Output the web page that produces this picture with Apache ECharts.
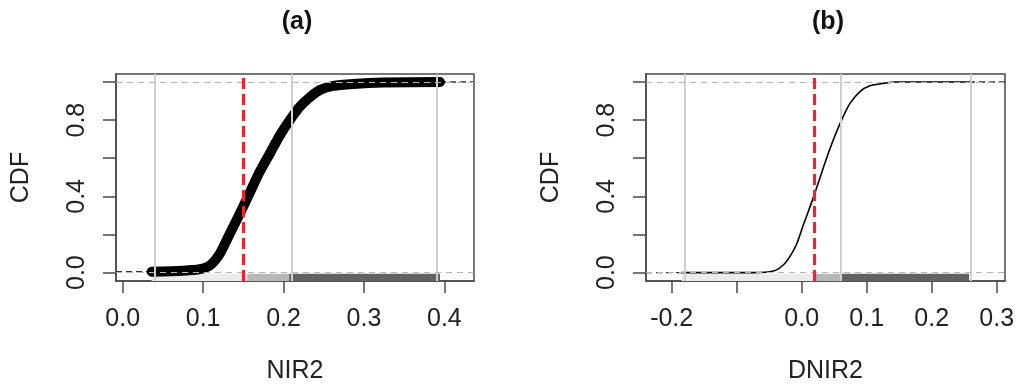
<!DOCTYPE html>
<html>
<head>
<meta charset="utf-8">
<script src="https://cdn.jsdelivr.net/npm/echarts@6/dist/echarts.min.js"></script>
<style>html,body{margin:0;padding:0;background:#fff}#c{width:1018px;height:390px}</style>
</head>
<body>
<div id="c"></div>
<script>
// ---- data ----
const panelTitles = ['(a)', '(b)'];
const xNames = ['NIR2', 'DNIR2'];
const yName = 'CDF';
const yTicks = [0, 0.2, 0.4, 0.6, 0.8, 1.0];
const yLabels = [0, 0.4, 0.8];
const nirTicks = [0, 0.1, 0.2, 0.3, 0.4];
const nirLabels = [0, 0.1, 0.2, 0.3, 0.4];
const dnirTicks = [-0.2, -0.1, 0, 0.1, 0.2, 0.3];
const dnirLabels = [-0.2, 0, 0.1, 0.2, 0.3];

// ECDF of NIR2 (panel a)
const nirX = [0.036, 0.075, 0.096, 0.1085, 0.1209, 0.1333, 0.1457, 0.1581, 0.1705, 0.183, 0.1954, 0.2078, 0.2202, 0.2327, 0.2451, 0.2617, 0.2866, 0.3237, 0.3945];
const nirY = [0.005, 0.010, 0.018, 0.038, 0.10, 0.205, 0.31, 0.42, 0.53, 0.625, 0.72, 0.80, 0.87, 0.92, 0.958, 0.98, 0.99, 0.997, 1.0];
// ECDF of DNIR2 (panel b)
const dnirX = [-0.1846, -0.0745, -0.0437, -0.0283, -0.018, -0.0077, 0.0025, 0.0128, 0.019, 0.023, 0.0333, 0.0435, 0.0538, 0.064, 0.0743, 0.0897, 0.105, 0.1255, 0.146, 0.2575];
const dnirY = [0.0, 0.0, 0.008, 0.04, 0.085, 0.15, 0.25, 0.345, 0.405, 0.445, 0.55, 0.65, 0.74, 0.82, 0.888, 0.95, 0.98, 0.993, 1.0, 1.0];

// reference lines (min, upper cut, max) and threshold (red)
const nirRef = [0.036, 0.207, 0.3945];
const nirThreshold = 0.155;
const dnirRef = [-0.1846, 0.0605, 0.2575];
const dnirThreshold = 0.019;

// axis limits (R style 4% padding)
const nirLim = [-0.0083, 0.4368];
const dnirLim = [-0.2395, 0.3128];
const yLim = [-0.044, 1.042];
const barBand = [-0.044, -0.006];

// ---- chart ----
const FONT = 'Liberation Sans, Arial, Helvetica, sans-serif';
const AX = '#4a4a4a';
const grids = [
  {left: 116, top: 74, width: 358, height: 207},
  {left: 646, top: 74, width: 359, height: 207}
];

function xAxisFor(i, lim, ticks, labels) {
  return {
    type: 'value', gridIndex: i, min: lim[0], max: lim[1],
    name: xNames[i], nameLocation: 'middle', nameGap: 78,
    nameTextStyle: {fontFamily: FONT, fontSize: 25, color: '#222'},
    axisLine: {show: true, onZero: false, lineStyle: {color: AX, width: 1.5}},
    axisTick: {show: true, length: 12, inside: false, customValues: ticks, lineStyle: {color: AX, width: 1.5}},
    axisLabel: {customValues: labels, margin: 26, fontFamily: FONT, fontSize: 25, color: '#222',
      formatter: v => (+v).toFixed(1)},
    splitLine: {show: false}
  };
}
function yAxisFor(i) {
  return {
    type: 'value', gridIndex: i, min: yLim[0], max: yLim[1],
    name: yName, nameLocation: 'middle', nameGap: 82, nameRotate: 90,
    nameTextStyle: {fontFamily: FONT, fontSize: 25, color: '#222'},
    axisLine: {show: true, onZero: false, lineStyle: {color: AX, width: 1.5}},
    axisTick: {show: true, length: 13, inside: false, customValues: yTicks, lineStyle: {color: AX, width: 1.5}},
    axisLabel: {customValues: yLabels, rotate: 90, margin: 26, fontFamily: FONT, fontSize: 25, color: '#222',
      formatter: v => (+v).toFixed(1)},
    splitLine: {show: false}
  };
}

function panelSeries(i, xs, ys, ref, thr, lim, curveWidth) {
  const pts = xs.map((x, k) => [x, ys[k]]);
  const barCols = ['#ebebeb', '#b8b8b8', '#626262'];
  const edges = [ref[0], thr, ref[1], ref[2]];
  return [
    { // grey bars along the bottom
      type: 'line', xAxisIndex: i, yAxisIndex: i, data: [], silent: true,
      markArea: {silent: true, z: 1, data: barCols.map((c, k) => [
        {xAxis: edges[k], yAxis: barBand[0], itemStyle: {color: c}},
        {xAxis: edges[k + 1], yAxis: barBand[1]}
      ])}
    },
    { // extensions of the step function outside the data range
      type: 'line', xAxisIndex: i, yAxisIndex: i, symbol: 'none', silent: true, z: 2,
      lineStyle: {color: '#333', width: 1.3, type: [6, 4]},
      data: [[lim[0], ys[0]], [xs[0], ys[0]], null, [xs[xs.length - 1], ys[ys.length - 1]], [lim[1], ys[ys.length - 1]]],
      connectNulls: false
    },
    { // ECDF curve
      type: 'line', xAxisIndex: i, yAxisIndex: i, data: pts, symbol: 'none', silent: true, z: 3,
      smooth: 0.25,
      lineStyle: {color: '#000', width: curveWidth, cap: 'round', join: 'round'}
    },
    { // reference lines
      type: 'line', xAxisIndex: i, yAxisIndex: i, data: [], silent: true,
      markLine: {silent: true, z: 6, symbol: 'none', label: {show: false},
        data: [
          ...ref.map(v => ({xAxis: v, lineStyle: {color: '#cfcfcf', width: 2, type: 'solid'}})),
          {yAxis: 0, lineStyle: {color: '#b5b5b5', width: 1.2, type: [6, 5]}},
          {yAxis: 1, lineStyle: {color: '#b5b5b5', width: 1.2, type: [6, 5]}}
        ]}
    },
    { // threshold
      type: 'line', xAxisIndex: i, yAxisIndex: i, data: [], silent: true,
      markLine: {silent: true, z: 8, symbol: 'none', label: {show: false},
        data: [{xAxis: thr, lineStyle: {color: '#e8262b', width: 3.2, type: [11, 5]}}]}
    }
  ];
}

const chart = echarts.init(document.getElementById('c'), null, {renderer: 'canvas'});
chart.setOption({
  animation: false,
  backgroundColor: '#fff',
  title: [
    {text: panelTitles[0], left: 292, top: 5, textAlign: 'center', textStyle: {fontFamily: FONT, fontSize: 25, fontWeight: 'bold', color: '#111'}},
    {text: panelTitles[1], left: 823, top: 5, textAlign: 'center', textStyle: {fontFamily: FONT, fontSize: 25, fontWeight: 'bold', color: '#111'}}
  ],
  grid: grids.map(g => Object.assign({show: true, borderColor: AX, borderWidth: 1.5, backgroundColor: 'transparent'}, g)),
  xAxis: [xAxisFor(0, nirLim, nirTicks, nirLabels), xAxisFor(1, dnirLim, dnirTicks, dnirLabels)],
  yAxis: [yAxisFor(0), yAxisFor(1)],
  series: [
    ...panelSeries(0, nirX, nirY, nirRef, nirThreshold, nirLim, 10),
    ...panelSeries(1, dnirX, dnirY, dnirRef, dnirThreshold, dnirLim, 1.6)
  ]
});
</script>
</body>
</html>
